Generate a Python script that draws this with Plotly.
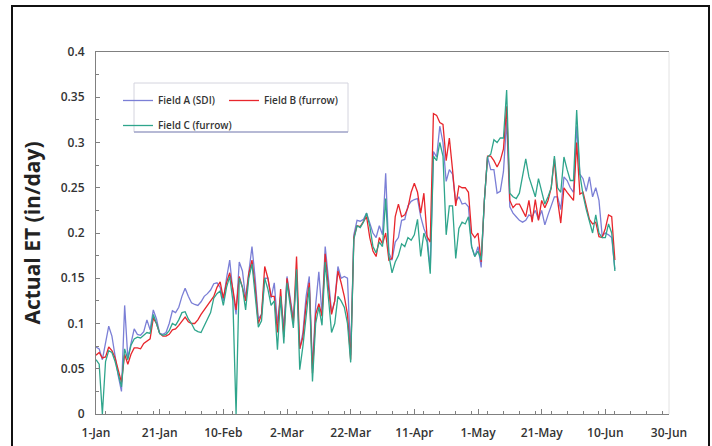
import pandas as pd
import plotly.graph_objects as go

# Daily actual ET (in/day), starting 1-Jan
start_date = "2007-01-01"

field_a_sdi = [
    0.074, 0.072, 0.060, 0.078, 0.097, 0.086, 0.062, 0.042, 0.025, 0.120,
    0.062, 0.080, 0.094, 0.088, 0.087, 0.091, 0.104, 0.093, 0.115, 0.105,
    0.089, 0.088, 0.090, 0.100, 0.114, 0.112, 0.118, 0.130, 0.139, 0.130,
    0.123, 0.121, 0.120, 0.124, 0.130, 0.133, 0.137, 0.144, 0.145, 0.140,
    0.125, 0.150, 0.170, 0.135, 0.110, 0.168, 0.158, 0.128, 0.160, 0.185,
    0.150, 0.105, 0.110, 0.150, 0.150, 0.128, 0.145, 0.100, 0.130, 0.095,
    0.152, 0.128, 0.105, 0.150, 0.072, 0.090, 0.130, 0.152, 0.050, 0.120,
    0.157, 0.110, 0.185, 0.150, 0.112, 0.125, 0.163, 0.150, 0.152, 0.150,
    0.065, 0.198, 0.214, 0.213, 0.215, 0.222, 0.210, 0.200, 0.195, 0.208,
    0.198, 0.266, 0.178, 0.170, 0.190, 0.195, 0.214, 0.215, 0.230, 0.235,
    0.237, 0.238, 0.218, 0.205, 0.196, 0.160, 0.290, 0.284, 0.318, 0.300,
    0.257, 0.270, 0.265, 0.235, 0.240, 0.232, 0.233, 0.229, 0.185, 0.174,
    0.185, 0.162, 0.236, 0.284, 0.270, 0.270, 0.244, 0.246, 0.268, 0.325,
    0.229, 0.222, 0.218, 0.214, 0.212, 0.214, 0.220, 0.218, 0.225, 0.215,
    0.225, 0.209, 0.220, 0.229, 0.240, 0.240, 0.226, 0.262, 0.258, 0.250,
    0.245, 0.318, 0.265, 0.260, 0.246, 0.262, 0.240, 0.250, 0.236, 0.197,
    0.200, 0.198, 0.195, 0.160,
]

field_b_furrow = [
    0.065, 0.068, 0.062, 0.063, 0.074, 0.070, 0.062, 0.048, 0.035, 0.066,
    0.055, 0.066, 0.073, 0.073, 0.072, 0.078, 0.081, 0.083, 0.106, 0.100,
    0.089, 0.086, 0.086, 0.088, 0.093, 0.094, 0.098, 0.102, 0.107, 0.102,
    0.100, 0.100, 0.104, 0.110, 0.115, 0.119, 0.124, 0.130, 0.140, 0.146,
    0.128, 0.145, 0.156, 0.138, 0.115, 0.152, 0.140, 0.125, 0.155, 0.170,
    0.140, 0.100, 0.110, 0.163, 0.150, 0.130, 0.130, 0.090, 0.138, 0.085,
    0.150, 0.126, 0.100, 0.174, 0.072, 0.085, 0.120, 0.145, 0.045, 0.110,
    0.122, 0.108, 0.177, 0.140, 0.110, 0.125, 0.158, 0.145, 0.130, 0.110,
    0.060, 0.195, 0.208, 0.207, 0.212, 0.218, 0.195, 0.180, 0.174, 0.195,
    0.188, 0.200, 0.170, 0.172, 0.218, 0.232, 0.218, 0.220, 0.228, 0.245,
    0.255, 0.245, 0.222, 0.244, 0.196, 0.190, 0.332, 0.330, 0.322, 0.320,
    0.280, 0.305, 0.270, 0.230, 0.252, 0.250, 0.250, 0.245, 0.200, 0.195,
    0.200, 0.168, 0.236, 0.285, 0.285, 0.280, 0.273, 0.280, 0.293, 0.340,
    0.236, 0.228, 0.232, 0.232, 0.225, 0.218, 0.236, 0.212, 0.237, 0.214,
    0.236, 0.228, 0.236, 0.250, 0.282, 0.236, 0.211, 0.250, 0.245, 0.240,
    0.236, 0.300, 0.243, 0.245, 0.230, 0.215, 0.210, 0.212, 0.196, 0.195,
    0.205, 0.220, 0.218, 0.170,
]

field_c_furrow = [
    0.060, 0.055, 0.000, 0.058, 0.070, 0.068, 0.058, 0.045, 0.030, 0.072,
    0.060, 0.076, 0.083, 0.085, 0.084, 0.087, 0.090, 0.089, 0.110, 0.100,
    0.089, 0.087, 0.088, 0.092, 0.100, 0.098, 0.104, 0.112, 0.113, 0.105,
    0.100, 0.093, 0.091, 0.090, 0.098, 0.104, 0.112, 0.128, 0.133, 0.136,
    0.120, 0.140, 0.152, 0.125, 0.000, 0.150, 0.140, 0.115, 0.150, 0.166,
    0.130, 0.096, 0.103, 0.150, 0.138, 0.120, 0.125, 0.071, 0.130, 0.078,
    0.145, 0.120, 0.095, 0.160, 0.049, 0.075, 0.110, 0.140, 0.036, 0.100,
    0.118, 0.098, 0.168, 0.130, 0.090, 0.100, 0.130, 0.125, 0.118, 0.100,
    0.057, 0.193, 0.208, 0.206, 0.212, 0.222, 0.208, 0.185, 0.178, 0.190,
    0.185, 0.238, 0.175, 0.156, 0.168, 0.175, 0.188, 0.185, 0.195, 0.192,
    0.198, 0.215, 0.174, 0.200, 0.190, 0.155, 0.285, 0.280, 0.300, 0.285,
    0.198, 0.230, 0.230, 0.172, 0.205, 0.212, 0.210, 0.218, 0.185, 0.174,
    0.180, 0.170, 0.236, 0.284, 0.287, 0.303, 0.300, 0.305, 0.305, 0.358,
    0.244, 0.240, 0.238, 0.244, 0.265, 0.282, 0.262, 0.250, 0.240, 0.260,
    0.245, 0.232, 0.240, 0.250, 0.285, 0.250, 0.245, 0.284, 0.270, 0.258,
    0.258, 0.336, 0.265, 0.242, 0.226, 0.213, 0.200, 0.220, 0.200, 0.195,
    0.195, 0.210, 0.200, 0.158,
]

series_names = ["Field A (SDI)", "Field B (furrow)", "Field C (furrow)"]
series_colors = ["#7b7fd6", "#e8262c", "#2fa58c"]

dates = pd.date_range(start_date, periods=len(field_a_sdi), freq="D")

# Plot-area geometry (pixels) used to place paper-referenced extras
W, H = 712, 446
L, R, T, B = 96, 43, 52, 32
PW, PH = W - L - R, H - T - B


def px_x(x):
    return (x - L) / PW


def px_y(y):
    return (H - B - y) / PH


fig = go.Figure()
for vals, name, color, leg in zip(
    [field_a_sdi, field_b_furrow, field_c_furrow],
    series_names,
    series_colors,
    ["legend", "legend2", "legend3"],
):
    fig.add_trace(
        go.Scatter(
            x=dates,
            y=vals,
            mode="lines",
            name=name,
            line=dict(color=color, width=1.3),
            legend=leg,
        )
    )

tick_font = dict(family="Open Sans, Arial, sans-serif", size=12, color="#333333", weight=600)
legend_style = dict(
    bgcolor="rgba(0,0,0,0)",
    borderwidth=0,
    font=dict(family="Open Sans, Arial, sans-serif", size=10, color="#333333", weight=600),
    xanchor="left",
    yanchor="top",
    itemwidth=30,
)

day_ms = 86400000

fig.update_layout(
    width=W,
    height=H,
    margin=dict(l=L, r=R, t=T, b=B, autoexpand=False),
    paper_bgcolor="white",
    plot_bgcolor="white",
    showlegend=True,
    legend=dict(x=px_x(118), y=px_y(86), **legend_style),
    legend2=dict(x=px_x(224), y=px_y(86), **legend_style),
    legend3=dict(x=px_x(118), y=px_y(111), **legend_style),
    xaxis=dict(
        type="date",
        range=["2007-01-01", "2007-06-30"],
        tick0="2007-01-01",
        dtick=20 * day_ms,
        tickformat="%-d-%b",
        showgrid=False,
        zeroline=False,
        showline=True,
        linecolor="#808080",
        linewidth=1,
        mirror=True,
        ticks="inside",
        ticklen=5,
        tickcolor="#808080",
        minor=dict(dtick=5 * day_ms, ticks="inside", ticklen=3, tickcolor="#808080"),
        tickfont=tick_font,
        ticklabelstandoff=8,
        automargin=False,
    ),
    yaxis=dict(
        range=[0, 0.4],
        dtick=0.05,
        showgrid=False,
        zeroline=False,
        showline=True,
        linecolor="#808080",
        linewidth=1,
        ticks="inside",
        ticklen=4,
        tickcolor="#808080",
        minor=dict(dtick=0.025, ticks="inside", ticklen=3, tickcolor="#808080"),
        tickfont=tick_font,
        ticklabelstandoff=8,
        title=dict(
            text="Actual ET (in/day)",
            font=dict(family="Open Sans, Arial, sans-serif", size=21, color="#222222", weight="bold"),
            standoff=14,
        ),
        automargin=False,
    ),
    shapes=[
        # faint right edge of the plot area
        dict(type="line", xref="paper", yref="paper", x0=1, x1=1, y0=0, y1=1,
             line=dict(color="#e2e2e2", width=1)),
        # legend box
        dict(type="rect", xref="paper", yref="paper",
             x0=px_x(134), x1=px_x(348), y0=px_y(132), y1=px_y(83),
             line=dict(color="#d4d4de", width=1), fillcolor="rgba(0,0,0,0)"),
        dict(type="line", xref="paper", yref="paper",
             x0=px_x(134), x1=px_x(348), y0=px_y(132), y1=px_y(132),
             line=dict(color="#a4a8cc", width=1.5)),
        # outer chart frame
        dict(type="rect", xref="paper", yref="paper",
             x0=px_x(12), x1=px_x(709), y0=px_y(460), y1=px_y(6),
             line=dict(color="#111111", width=2), fillcolor="rgba(0,0,0,0)", layer="above"),
    ],
)

fig.write_html("out.html")
